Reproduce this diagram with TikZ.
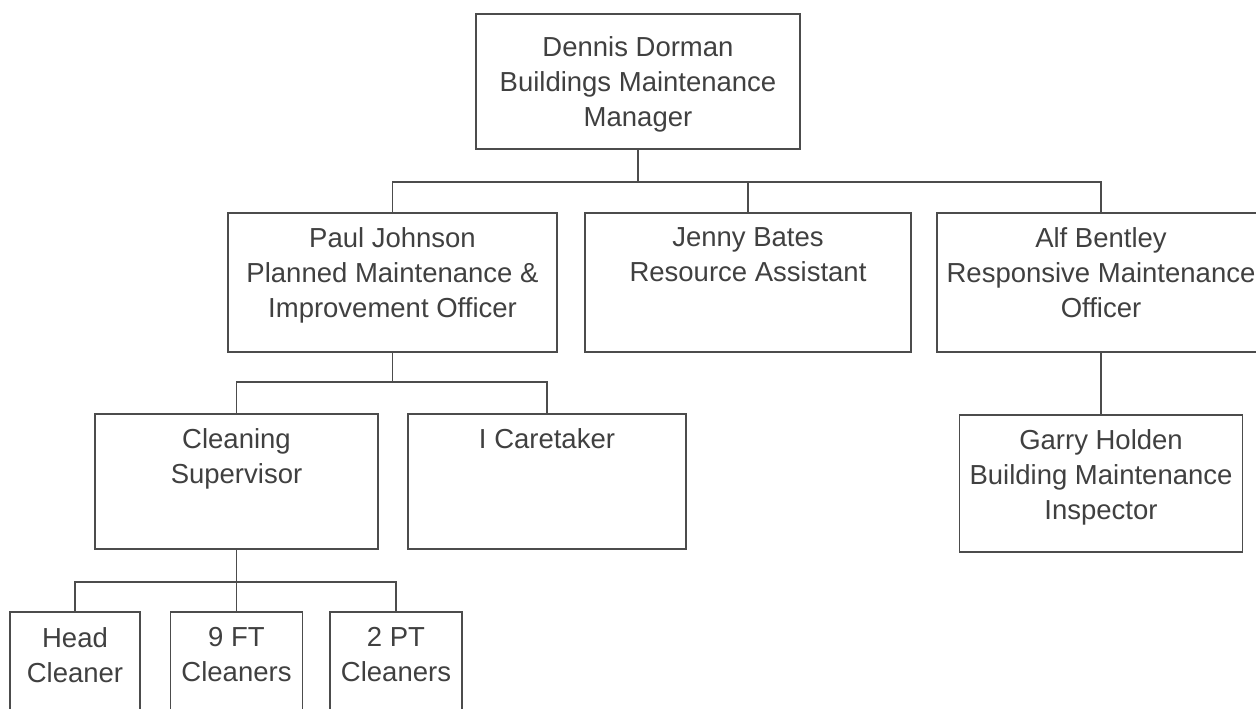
\documentclass[tikz,border=0pt]{standalone}
\usepackage{fontspec}
\setmainfont{Liberation Sans}
\usetikzlibrary{positioning}

\begin{document}
\begin{tikzpicture}[x=0.5pt,y=-0.5pt,
    box/.style={draw=black!70,line width=0.8pt,inner sep=0pt},
    lbl/.style={align=center,inner sep=0pt,text=black!75,
      font=\fontsize{13.75pt}{17.5pt}\selectfont},
    wire/.style={draw=black!70,line width=0.8pt}]
    \clip (0,0) rectangle (1256,708);
    %% boxes
    \node[box,minimum width=162pt,minimum height=67.5pt] (mgr) at (638,81.5) {};
    \node[box,minimum width=164.5pt,minimum height=69.5pt] (paul) at (392.5,282.5) {};
    \node[box,minimum width=163pt,minimum height=69.5pt] (jenny) at (748,282.5) {};
    \node[box,minimum width=164pt,minimum height=69.5pt] (alf) at (1101,282.5) {};
    \node[box,minimum width=141.5pt,minimum height=67.5pt] (clean) at (236.5,481.5) {};
    \node[box,minimum width=139pt,minimum height=67.5pt] (care) at (547,481.5) {};
    \node[box,minimum width=141.5pt,minimum height=68.5pt] (garry) at (1101,483.5) {};
    \node[box,minimum width=65pt,minimum height=54pt] (head) at (75,666) {};
    \node[box,minimum width=66pt,minimum height=54pt] (ft) at (236.5,666) {};
    \node[box,minimum width=66pt,minimum height=54pt] (pt) at (396,666) {};
    %% texts
    \node[lbl,below=11.5pt of mgr.north] (mgrT) {Dennis Dorman\\Buildings Maintenance\\Manager};
    \node[lbl,below=7.5pt of paul.north] (paulT) {Paul Johnson\\Planned Maintenance \&\\Improvement Officer};
    \node[lbl,below=7.5pt of jenny.north] (jennyT) {Jenny Bates\\Resource Assistant};
    \node[lbl,below=7.5pt of alf.north] (alfT) {Alf Bentley\\Responsive Maintenance\\Officer};
    \node[lbl,below=7.5pt of clean.north] (cleanT) {Cleaning\\Supervisor};
    \node[lbl,below=7.5pt of care.north] (careT) {I Caretaker};
    \node[lbl,below=7.5pt of garry.north] (garryT) {Garry Holden\\Building Maintenance\\Inspector};
    \node[lbl,below=8pt of head.north] (headT) {Head\\Cleaner};
    \node[lbl,below=8pt of ft.north] (ftT) {9 FT\\Cleaners};
    \node[lbl,below=8pt of pt.north] (ptT) {2 PT\\Cleaners};
    %% connectors
    \coordinate (barA) at (0,182);
    \coordinate (barB) at (0,382);
    \coordinate (barC) at (0,582);
    \draw[wire] (mgr.south) -- (mgr.south |- barA) -| (paul.north);
    \draw[wire] (mgr.south |- barA) -| (jenny.north);
    \draw[wire] (mgr.south |- barA) -| (alf.north);
    \draw[wire] (paul.south) -- (paul.south |- barB) -| (clean.north);
    \draw[wire] (paul.south |- barB) -| (care.north);
    \draw[wire] (alf.south) -- (garry.north);
    \draw[wire] (clean.south) -- (clean.south |- barC) -| (head.north);
    \draw[wire] (clean.south |- barC) -- (ft.north);
    \draw[wire] (clean.south |- barC) -| (pt.north);
\end{tikzpicture}
\end{document}
